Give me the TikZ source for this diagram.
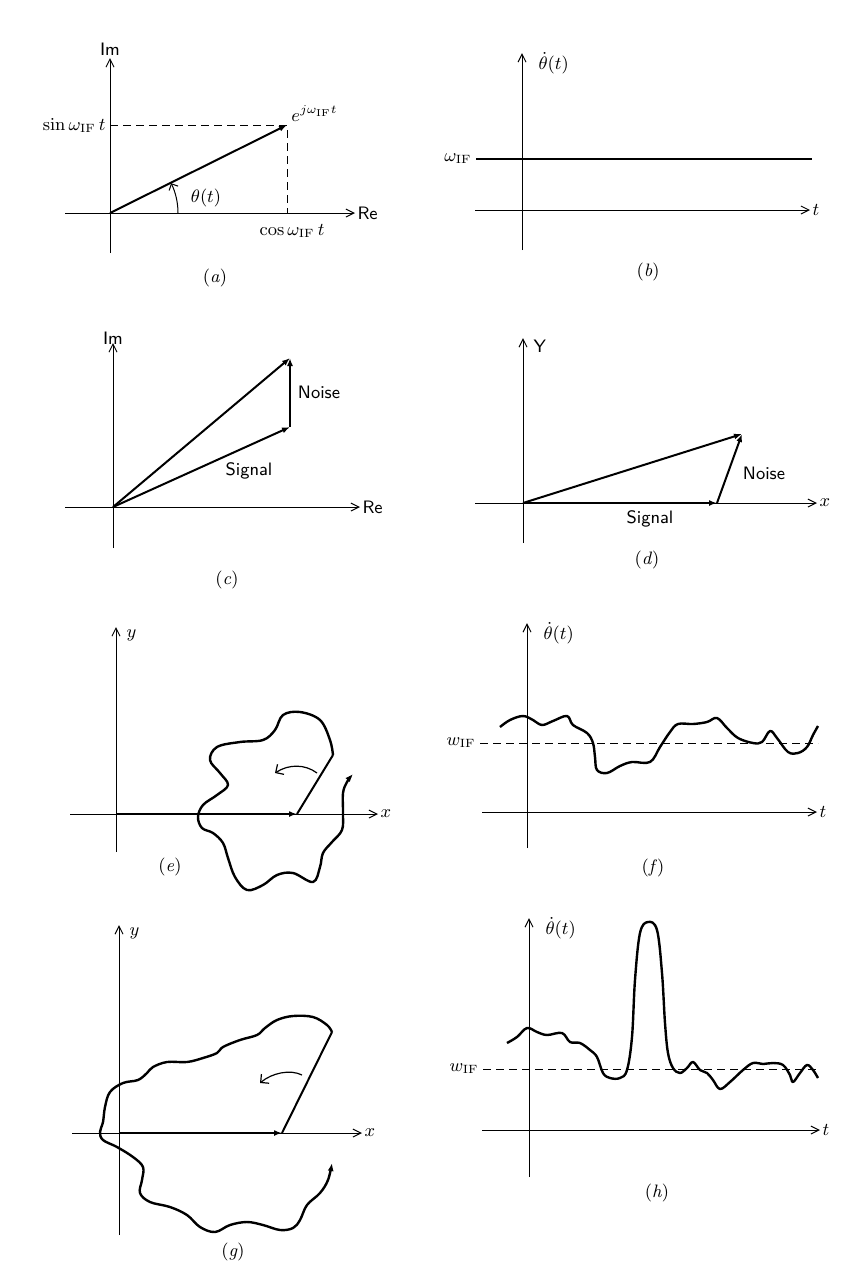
\documentclass[tikz,border=0pt]{standalone}
\usepackage{amsmath}
\usetikzlibrary{arrows.meta}

\begin{document}
\begin{tikzpicture}[x=0.5pt,y=-0.5pt,
  ax/.style={-{Straight Barb[length=4pt,width=4pt]},line width=0.5pt},
  vec/.style={-{Latex[length=4pt,width=3pt]},line width=1pt},
  wob/.style={line width=1.2pt,line join=round},
  dsh/.style={line width=0.5pt,dash pattern=on 4pt off 2.5pt},
  lab/.style={font=\fontsize{9}{10}\selectfont,inner sep=1pt},
  sf/.style={font=\sffamily\fontsize{9}{10}\selectfont,inner sep=1pt},
  capt/.style={font=\fontsize{9}{10}\selectfont}
]
\useasboundingbox (0,0) rectangle (844,1271);

% (a) phasor
\coordinate (oa) at (110,213);
\coordinate (pa) at (287,125);
\draw[ax] (65,213) -- (355,213) node[sf,right] (aRe) {Re};
\draw[ax] (110,253) -- (110,58) node[sf,above] (aIm) {Im};
\draw[dsh] (110,125) -- (pa) -- (287,213);
\draw[vec] (oa) -- (pa);
\draw[-{Straight Barb[length=2.5pt]},line width=0.5pt] (178,213) arc[start angle=0,end angle=-26,radius=68];
\node[lab,left] (asin) at (108,125) {$\sin\omega_{\mathrm{IF}}\,t$};
\node[lab,anchor=south west] (aexp) at (289,124) {$e^{j\omega_{\mathrm{IF}}t}$};
\node[lab] (acos) at (292,231) {$\cos\omega_{\mathrm{IF}}\,t$};
\node[lab] (ath) at (206,198) {$\theta(t)$};
\node[capt] (capa) at (215,278) {(\textit{a})};

% (b) constant frequency
\draw[ax] (522,250) -- (522,53) node[lab,anchor=west,xshift=7pt,yshift=-5pt] (bth) {$\dot\theta(t)$};
\draw[ax] (475,210) -- (810,210) node[lab,right] (bt) {$t$};
\draw[line width=1.2pt] (476,159) -- (812,159);
\node[lab,left] (bw) at (474,159) {$\omega_{\mathrm{IF}}$};
\node[capt] (capb) at (648,272) {(\textit{b})};

% (c) signal plus noise, large signal
\coordinate (oc) at (113,507);
\coordinate (sc) at (290,427);
\coordinate (rc) at (290,358);
\draw[ax] (65,507) -- (360,507) node[sf,right] (cRe) {Re};
\draw[ax] (113,548) -- (113,343) node[sf,above,yshift=-2pt] (cIm) {Im};
\draw[vec] (oc) -- (sc);
\draw[vec] (sc) -- (rc);
\draw[vec] (oc) -- (rc);
\node[sf] (cn) at (319,392) {Noise};
\node[sf] (cs) at (249,471) {Signal};
\node[capt] (capc) at (227,580) {(\textit{c})};

% (d) signal plus noise, rotated
\coordinate (od) at (523,503);
\coordinate (sd) at (717,503);
\coordinate (rd) at (742,434);
\draw[ax] (475,503) -- (817,503) node[lab,right] (dx) {$x$};
\draw[ax] (523,543) -- (523,338) node[sf,anchor=west,xshift=4pt,yshift=-4pt] (dy) {Y};
\draw[vec] (od) -- (sd);
\draw[vec] (sd) -- (rd);
\draw[vec] (od) -- (rd);
\node[sf] (dn) at (764,473) {Noise};
\node[sf] (ds) at (650,519) {Signal};
\node[capt] (capd) at (647,560) {(\textit{d})};

% (e) locus not enclosing origin
\coordinate (oe) at (116,814);
\coordinate (se) at (297,814);
\coordinate (re) at (333,755);
\draw[ax] (70,814) -- (378,814) node[lab,right] (ex) {$x$};
\draw[ax] (116,852) -- (116,627) node[lab,anchor=west,xshift=4pt,yshift=-4pt] (ey) {$y$};
\draw[vec] (oe) -- (se);
\draw[line width=1pt] (se) -- (re);
\draw[wob,-{Latex[length=4pt,width=3pt]}] plot[smooth,tension=0.6] coordinates {
  (333,755) (330,740) (320,720) (300,712) (283,715) (275,730) (263,740)
  (240,742) (217,747) (210,760) (220,773) (228,785) (217,795) (203,805)
  (198,817) (202,828) (213,833) (223,843) (228,858) (235,877) (247,890)
  (263,885) (277,875) (293,873) (313,882) (320,867) (323,853) (332,842)
  (342,830) (343,813) (343,793) (347,782) (353,774)};
\draw[-{Straight Barb[length=3pt]},line width=0.6pt] (317,773) .. controls (305,764) and (289,764) .. (275,773);
\node[capt] (cape) at (170,867) {(\textit{e})};

% (f) frequency, no click
\draw[ax] (527,848) -- (527,623) node[lab,anchor=west,xshift=7pt,yshift=-5pt] (fth) {$\dot\theta(t)$};
\draw[ax] (482,812) -- (817,812) node[lab,right] (ft) {$t$};
\draw[dsh] (480,743) -- (818,743);
\node[lab,left] (fw) at (478,743) {$w_{\mathrm{IF}}$};
\draw[wob] plot[smooth,tension=0.6] coordinates {
  (500,727) (510,720) (523,716) (533,720) (542,725) (553,721) (567,716)
  (573,725) (587,733) (593,743) (595,757) (597,770) (607,773) (620,766)
  (632,762) (650,762) (660,747) (670,732) (678,724) (693,724) (707,722)
  (717,718) (727,728) (738,738) (753,743) (762,742) (770,731) (777,738)
  (788,752) (798,753) (807,747) (813,735) (818,726)};
\node[capt] (capf) at (653,868) {(\textit{f})};

% (g) locus enclosing origin
\coordinate (og) at (119,1133);
\coordinate (sg) at (282,1133);
\coordinate (rg) at (332,1032);
\draw[ax] (72,1133) -- (362,1133) node[lab,right] (gx) {$x$};
\draw[ax] (119,1235) -- (119,925) node[lab,anchor=west,xshift=4pt,yshift=-4pt] (gy) {$y$};
\draw[vec] (og) -- (sg);
\draw[line width=1pt] (sg) -- (rg);
\draw[wob,-{Latex[length=4pt,width=3pt]}] plot[smooth,tension=0.6] coordinates {
  (332,1032) (327,1025) (313,1017) (293,1016) (277,1020) (265,1028)
  (257,1035) (240,1040) (223,1047) (217,1053) (203,1058) (187,1062)
  (167,1062) (153,1067) (147,1073) (138,1080) (123,1083) (110,1092)
  (105,1107) (103,1122) (100,1132) (103,1140) (117,1147) (133,1157)
  (143,1167) (142,1180) (140,1193) (150,1202) (170,1207) (187,1215)
  (200,1227) (215,1232) (230,1225) (247,1222) (263,1225) (280,1230)
  (293,1228) (300,1220) (307,1205) (320,1193) (328,1180) (332,1163)};
\draw[-{Straight Barb[length=3pt]},line width=0.6pt] (302,1075) .. controls (290,1069) and (272,1073) .. (260,1083);
\node[capt] (capg) at (233,1252) {(\textit{g})};

% (h) frequency with click
\draw[ax] (529,1177) -- (529,918) node[lab,anchor=west,xshift=7pt,yshift=-5pt] (hth) {$\dot\theta(t)$};
\draw[ax] (482,1130) -- (820,1130) node[lab,right] (ht) {$t$};
\draw[dsh] (483,1069) -- (820,1069);
\node[lab,left] (hw) at (481,1069) {$w_{\mathrm{IF}}$};
\draw[wob] plot[smooth,tension=0.6] coordinates {
  (507,1043) (517,1037) (527,1028) (537,1032) (547,1035) (562,1033)
  (570,1042) (580,1043) (590,1050) (597,1057) (603,1073) (610,1078)
  (620,1078) (627,1070) (632,1037) (635,980) (640,933) (648,922)
  (657,930) (662,973) (665,1023) (668,1053) (673,1068) (680,1073)
  (687,1068) (693,1062) (700,1070) (707,1073) (713,1080) (720,1089)
  (730,1082) (743,1070) (753,1063) (763,1064) (773,1063) (783,1065)
  (790,1075) (793,1082) (800,1073) (807,1065) (813,1070) (818,1078)};
\node[capt] (caph) at (657,1193) {(\textit{h})};
\end{tikzpicture}
\end{document}
